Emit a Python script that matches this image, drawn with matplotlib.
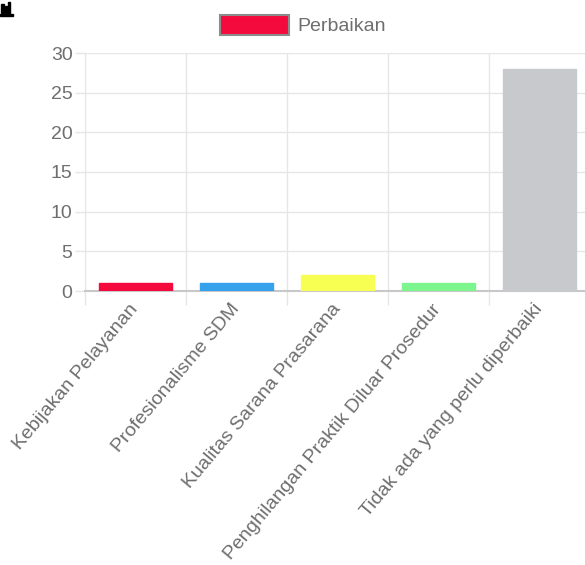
import numpy as np
import matplotlib.pyplot as plt
from matplotlib.patches import Rectangle

# data
kategori = ['Kebijakan Pelayanan', 'Profesionalisme SDM', 'Kualitas Sarana Prasarana',
            'Penghilangan Praktik Diluar Prosedur', 'Tidak ada yang perlu diperbaiki']
nilai = [1, 1, 2, 1, 28]
warna = ['#F50A3D', '#36A2EB', '#F7FF52', '#7DF58F', '#C8C9CC']
label_seri = 'Perbaikan'
y_ticks = [0, 5, 10, 15, 20, 25, 30]

W, H = 585, 565
plt.rcParams['font.family'] = ['Liberation Sans', 'DejaVu Sans']
fs = 14
teks = '#6e6e6e'

fig = plt.figure(figsize=(W / 100, H / 100), dpi=100)

# area plot dalam piksel
x0, x1 = 85, 590
y_top, y_bot = 53, 291
ax = fig.add_axes([x0 / W, 1 - y_bot / H, (x1 - x0) / W, (y_bot - y_top) / H])

x = np.arange(len(kategori))
ax.bar(x, nilai, width=0.72, color=warna, edgecolor=warna, linewidth=1, zorder=3)

ax.set_xlim(-0.5, len(kategori) - 0.5)
ax.set_ylim(0, 30)
ax.set_yticks(y_ticks)
ax.set_yticklabels([str(v) for v in y_ticks], fontsize=fs, color=teks)

ax.set_xticks(x)
ax.set_xticklabels(kategori, rotation=50, ha='right', va='center',
                   rotation_mode='anchor', fontsize=fs, color=teks)
ax.tick_params(axis='x', length=0, pad=11)
ax.set_xticks(np.arange(-0.5, len(kategori)), minor=True)
ax.tick_params(axis='x', which='minor', length=10, color='#e6e6e6', width=1)
ax.tick_params(axis='y', length=7, color='#e6e6e6', width=1, pad=2)

ax.grid(axis='y', color='#e6e6e6', linewidth=1, zorder=0)
ax.grid(axis='x', which='minor', color='#e6e6e6', linewidth=1, zorder=0)

for s in ['top', 'right']:
    ax.spines[s].set_visible(False)
ax.spines['left'].set_color('#e6e6e6')
ax.spines['bottom'].set_color('#c8c8c8')
ax.spines['bottom'].set_linewidth(1.5)

# legenda
h = Rectangle((0, 0), 1, 1, facecolor=warna[0], edgecolor='#8c8c8c', linewidth=1.5)
fig.legend([h], [label_seri], loc='center', bbox_to_anchor=(303 / W, 1 - 25 / H),
           frameon=False, fontsize=fs, handlelength=3.55, handleheight=1.25,
           handletextpad=0.4, labelcolor=teks, borderaxespad=0, borderpad=0)

# ikon kecil di pojok kiri atas
for bx, by, bw, bh in [(1, 4, 3, 9), (5, 6, 2, 7), (8, 2, 2, 11)]:
    fig.add_artist(Rectangle((bx / W, 1 - (by + bh) / H), bw / W, bh / H,
                             transform=fig.transFigure, color='black'))
fig.add_artist(Rectangle((0, 1 - 15.5 / H), 13 / W, 1.5 / H,
                         transform=fig.transFigure, color='black'))

fig.savefig('out.png', dpi=100)
